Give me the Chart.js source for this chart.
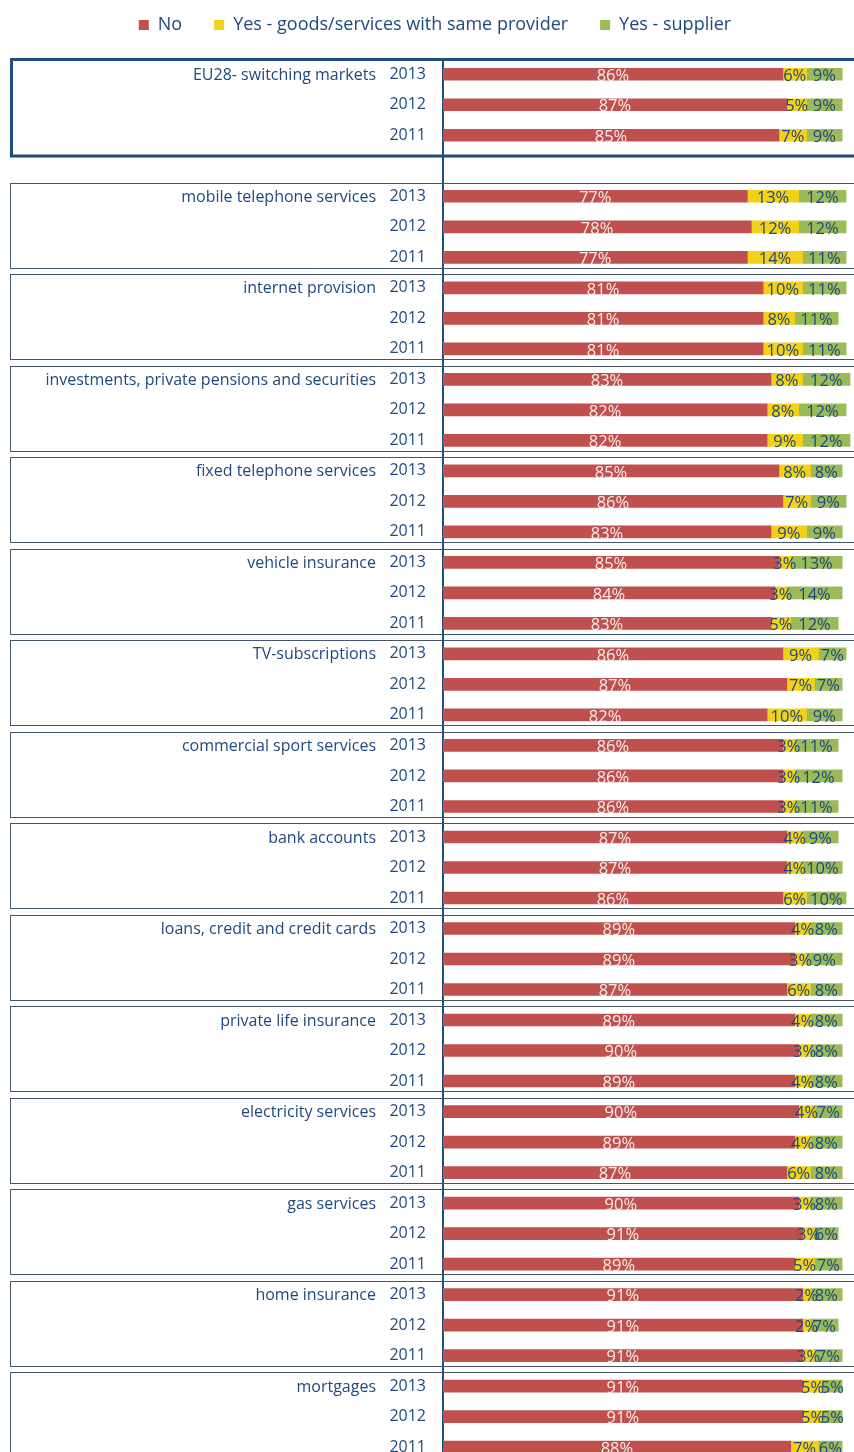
<!DOCTYPE html>
<html><head><meta charset="utf-8">
<script src="https://cdn.jsdelivr.net/npm/chart.js@4.4.0/dist/chart.umd.min.js"></script>
<style>html,body{margin:0;padding:0;background:#fff;overflow:hidden}#c{display:block;width:854px;height:1489px}</style>
</head><body><canvas id="c" width="854" height="1489"></canvas>
<script>
const categories = ['EU28- switching markets','mobile telephone services','internet provision','investments, private pensions and securities','fixed telephone services','vehicle insurance','TV-subscriptions','commercial sport services','bank accounts','loans, credit and credit cards','private life insurance','electricity services','gas services','home insurance','mortgages'];
const years = ['2013','2012','2011'];
const seriesNames = ['No','Yes - goods/services with same provider','Yes - supplier'];
// per category: 2013, 2012, 2011
const noValues = [86,87,85, 77,78,77, 81,81,81, 83,82,82, 85,86,83, 85,84,83, 86,87,82, 86,86,86, 87,87,86, 89,89,87, 89,90,89, 90,89,87, 90,91,89, 91,91,91, 91,91,88];
const sameProvider = [6,5,7, 13,12,14, 10,8,10, 8,8,9, 8,7,9, 3,3,5, 9,7,10, 3,3,3, 4,4,6, 4,3,6, 4,3,4, 4,4,6, 3,3,5, 2,2,3, 5,5,7];
const supplier = [9,9,9, 12,12,11, 11,11,11, 12,12,12, 8,9,9, 13,14,12, 7,7,9, 11,12,11, 9,10,10, 8,9,8, 8,8,8, 7,8,8, 8,6,7, 8,7,7, 5,5,6];
const colors = ['#C0504D','#F2D118','#9BBB59'];
const TEXT = '#1F497D';

// build rows (gap row after the first group)
const rowLabels = [], rowNo = [], rowSame = [], rowSup = [], groupStart = [];
categories.forEach((c, g) => {
  groupStart.push(rowLabels.length);
  years.forEach((y, k) => {
    const i = g * 3 + k;
    rowLabels.push(y); rowNo.push(noValues[i]); rowSame.push(sameProvider[i]); rowSup.push(supplier[i]);
  });
  if (g === 0) { rowLabels.push(''); rowNo.push(null); rowSame.push(null); rowSup.push(null); }
});

const decoPlugin = {
  id: 'deco',
  afterLayout(chart) {
    if (chart.legend) { chart.legend.left += 8; chart.legend.right += 8; }
  },
  beforeDatasetsDraw(chart) {
    const ctx = chart.ctx, ys = chart.scales.y;
    const h = ys.getPixelForValue(1) - ys.getPixelForValue(0);
    ctx.save();
    groupStart.forEach((s, g) => {
      let top, bottom;
      if (g === 0) {
        top = ys.getPixelForValue(s) - h / 2 + 0.5;
        bottom = ys.getPixelForValue(s + 2) + h / 2 + 5.5;
        ctx.lineWidth = 3; ctx.strokeStyle = '#1F4E79';
        ctx.strokeRect(11.5, top, 860, bottom - top);
      } else {
        top = ys.getPixelForValue(s) - h / 2 + 1.5;
        bottom = ys.getPixelForValue(s + 2) + h / 2 - 5.5;
        ctx.lineWidth = 1; ctx.strokeStyle = '#44546A';
        ctx.strokeRect(10.5, Math.round(top) + 0.5, 860, Math.round(bottom - top));
      }
      ctx.font = '16px "Open Sans"';
      ctx.fillStyle = TEXT; ctx.textAlign = 'right'; ctx.textBaseline = 'middle';
      ctx.fillText(categories[g], 376, ys.getPixelForValue(s) + 1);
    });
    ctx.restore();
  },
  afterDatasetsDraw(chart) {
    const ctx = chart.ctx;
    ctx.save();
    ctx.font = '16.5px "Open Sans"';
    ctx.textAlign = 'center'; ctx.textBaseline = 'middle';
    chart.data.datasets.forEach((ds, di) => {
      const meta = chart.getDatasetMeta(di);
      meta.data.forEach((el, i) => {
        const v = ds.data[i];
        if (v === null || v === undefined) return;
        ctx.fillStyle = di === 0 ? '#F6ECEC' : TEXT;
        ctx.fillText(v + '%', (el.x + el.base) / 2, el.y + 2);
      });
    });
    ctx.restore();
  }
};

new Chart(document.getElementById('c'), {
  type: 'bar',
  data: {
    labels: rowLabels,
    datasets: [
      { label: seriesNames[0], data: rowNo, backgroundColor: colors[0] },
      { label: seriesNames[1], data: rowSame, backgroundColor: colors[1] },
      { label: seriesNames[2], data: rowSup, backgroundColor: colors[2] }
    ]
  },
  options: {
    indexAxis: 'y',
    responsive: false,
    maintainAspectRatio: false,
    animation: false,
    devicePixelRatio: 1,
    layout: { padding: { top: -16, left: 0, right: 0, bottom: 0 } },
    datasets: { bar: { barThickness: 12, borderWidth: 0 } },
    scales: {
      x: {
        stacked: true, min: 0, max: 104, position: 'top',
        ticks: { display: false }, grid: { display: false, drawTicks: false }, border: { display: false },
        afterFit(s) { s.height = 15; }
      },
      y: {
        stacked: true,
        ticks: { autoSkip: false, color: TEXT, font: { family: 'Open Sans', size: 16 }, padding: 17 },
        grid: { display: false, drawTicks: false },
        border: { display: true, color: '#1F4E79', width: 2 },
        afterFit(s) { s.width = 443; }
      }
    },
    plugins: {
      legend: {
        position: 'top',
        labels: { boxWidth: 10, boxHeight: 10, padding: 32, color: TEXT, font: { family: 'Open Sans', size: 18 } }
      },
      tooltip: { enabled: false }
    }
  },
  plugins: [decoPlugin]
});
</script></body></html>
